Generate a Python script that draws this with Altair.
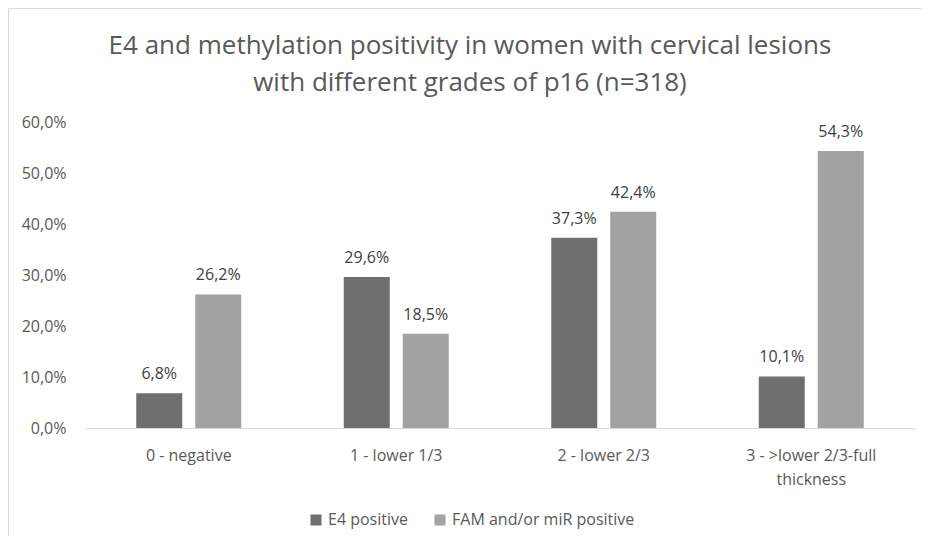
import altair as alt
import pandas as pd

categories = ["0 - negative", "1 - lower 1/3", "2 - lower 2/3", "3 - >lower 2/3-full thickness"]
series = ["E4 positive", "FAM and/or miR positive"]
e4_values = [6.8, 29.6, 37.3, 10.1]
fam_values = [26.2, 18.5, 42.4, 54.3]
colors = ["#6f6f6f", "#a3a3a3"]

rows = []
for c, a, b in zip(categories, e4_values, fam_values):
    rows.append({"cat": c, "series": series[0], "val": a})
    rows.append({"cat": c, "series": series[1], "val": b})
df = pd.DataFrame(rows)
df["label"] = df["val"].map(lambda v: f"{v:.1f}%".replace(".", ","))

FONT = "Open Sans"

x_enc = alt.X("cat:N", sort=categories, title=None,
              scale=alt.Scale(paddingInner=0.494, paddingOuter=0.247),
              axis=alt.Axis(labelAngle=0, ticks=False, domainColor="#d9d9d9", domainWidth=1,
                            labelColor="#595959", labelFontSize=16, labelFont=FONT,
                            labelPadding=19, labelLineHeight=24, labelLimit=300,
                            labelExpr="datum.value == '3 - >lower 2/3-full thickness' ? ['3 - >lower 2/3-full', 'thickness'] : datum.value"))
xo_enc = alt.XOffset("series:N", sort=series, scale=alt.Scale(paddingInner=0.22, paddingOuter=0))
y_enc = alt.Y("val:Q", title=None,
              scale=alt.Scale(domain=[0, 60]),
              axis=alt.Axis(values=[0, 10, 20, 30, 40, 50, 60], grid=False, domain=False, ticks=False,
                            labelColor="#595959", labelFontSize=16, labelFont=FONT, labelPadding=19,
                            labelExpr="replace(format(datum.value, '.1f'), '.', ',') + '%'"))

base = alt.Chart(df)
bars = base.mark_bar().encode(
    x=x_enc, xOffset=xo_enc, y=y_enc,
    color=alt.Color("series:N", sort=series, title=None,
                    scale=alt.Scale(domain=series, range=colors),
                    legend=alt.Legend(orient="none", legendX=223, legendY=390, direction="horizontal",
                                      symbolType="square", symbolSize=121, symbolStrokeWidth=0,
                                      labelFontSize=16, labelFont=FONT, labelColor="#595959",
                                      labelOffset=4, columnPadding=24, padding=0, labelLimit=400)),
)
texts = base.mark_text(dy=-19, fontSize=16, font=FONT, color="#404040").encode(
    x=alt.X("cat:N", sort=categories), xOffset=alt.XOffset("series:N", sort=series),
    y="val:Q", text="label:N",
)
frame = alt.Chart(pd.DataFrame({"a": [0]})).mark_rect(fill=None, stroke="#d9d9d9", strokeWidth=1).encode(
    x=alt.value(-76.5), x2=alt.value(900), y=alt.value(-113.5), y2=alt.value(600),
)

chart = alt.layer(frame, bars, texts).properties(
    width=830, height=306,
    title=alt.TitleParams(["E4 and methylation positivity in women with cervical lesions",
                           "with different grades of p16 (n=318)"],
                          fontSize=26, font=FONT, color="#595959", fontWeight="normal",
                          lineHeight=37, anchor="middle", dx=-30, dy=88, offset=0),
    padding={"left": 77, "top": 114, "right": 6, "bottom": 108},
    autosize=alt.AutoSizeParams(type="none"),
).configure(background="white", view={"stroke": "transparent"})

chart.save("out.html", embed_options={"renderer": "svg", "actions": False})
